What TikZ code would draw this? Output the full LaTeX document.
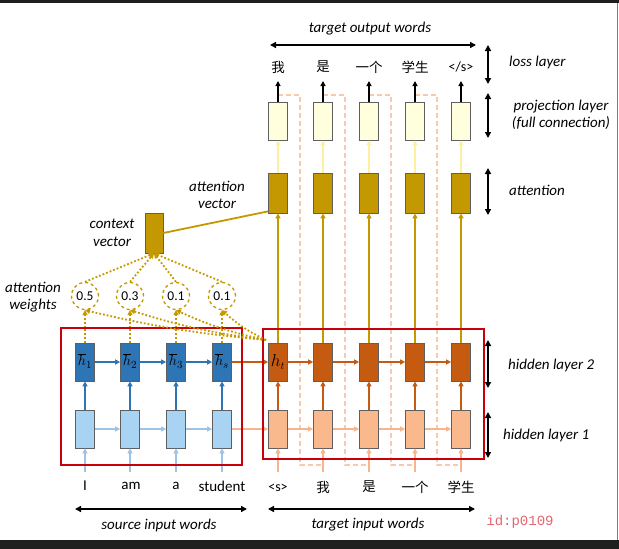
\documentclass[tikz,border=0pt]{standalone}
\usepackage{fontspec}
\setmainfont{Carlito}
\newfontfamily\cjk{Noto Sans CJK SC}
\newfontfamily\idfont{Liberation Mono}
\usetikzlibrary{arrows.meta,calc}
\definecolor{dblue}{RGB}{46,117,182}
\definecolor{lblue}{RGB}{169,211,242}
\definecolor{lbluearr}{RGB}{157,195,230}
\definecolor{dorange}{RGB}{197,90,17}
\definecolor{lorange}{RGB}{250,185,140}
\definecolor{lorangearr}{RGB}{248,180,140}
\definecolor{gold}{RGB}{196,152,0}
\definecolor{lyellow}{RGB}{255,255,222}
\definecolor{lyellowarr}{RGB}{255,240,160}
\definecolor{peach}{RGB}{250,200,170}
\definecolor{redbox}{RGB}{200,0,10}
\definecolor{boxborder}{RGB}{95,95,95}
\definecolor{idred}{RGB}{228,100,110}
\tikzset{
  cell/.style={draw=boxborder, line width=0.7pt, minimum width=19pt, minimum height=38pt, inner sep=0pt},
  lbl/.style={font=\fontsize{15}{17.5}\selectfont\itshape, align=center, inner sep=1pt},
  word/.style={font=\fontsize{15}{17}\selectfont, inner sep=1pt},
  cword/.style={font=\fontsize{13.5}{15}\selectfont\cjk, inner sep=1pt},
  tip/.style={-{Triangle[length=5pt,width=5pt]}},
  dbl/.style={{Triangle[length=6pt,width=6pt]}-{Triangle[length=6pt,width=6pt]}, line width=1.4pt},
  wcirc/.style={circle, draw=gold, dashed, line width=1.3pt, minimum size=27pt, inner sep=0pt, font=\fontsize{13.5}{15}\selectfont},
  dots/.style={gold, dotted, line width=1.8pt},
  hlab/.style={inner sep=0pt, font=\fontsize{15}{15}\selectfont},
}
\begin{document}
\begin{tikzpicture}[x=1pt,y=-1pt]
\useasboundingbox (0,0) rectangle (619,549);
% screenshot frame
\fill[black!88] (0,0) rectangle (619,3);
\fill[black!88] (0,540) rectangle (619,549);
\draw[gray, line width=1pt] (617.5,3) -- (617.5,540);

% peach dashed feedback paths
\foreach \xa/\xb in {278/323,323/369,369/415,415/461}{
  \draw[peach, dashed, line width=1.3pt, dash pattern=on 5pt off 3pt] (\xa,95) -| (\xa+22,465) -| (\xb,460);
}

% source nodes
\foreach \i/\x in {1/85,2/130,3/176}{
  \node[cell, fill=lblue] (sa\i) at (\x,429) {};
  \node[cell, fill=dblue] (sb\i) at (\x,362) {};
  \node[hlab] (hb\i) at (\x,361) {$\overline{h}_{\i}$};
}
\node[cell, fill=lblue] (sa4) at (222,429) {};
\node[cell, fill=dblue] (sb4) at (222,362) {};
\node[hlab] (hb4) at (222,361) {$\overline{h}_{s}$};

% source words
\node[word] (wI) at (85,486) {I};
\node[word] (wam) at (131,486) {am};
\node[word] (wa) at (176,486) {a};
\node[word] (wst) at (222,486) {student};
\foreach \i/\x in {1/85,2/130,3/176,4/222}{
  \coordinate (si\i) at (\x,472);
  \draw[lbluearr, line width=1.2pt, tip] (si\i) -- (sa\i.south);
  \draw[dblue, line width=1.8pt, tip] (sa\i.north) -- (sb\i.south);
}
\foreach \i/\j in {1/2,2/3,3/4}{
  \draw[lbluearr, line width=1.2pt, tip] (sa\i.east) -- (sa\j.west);
  \draw[dblue, line width=2.2pt, tip] (sb\i.east) -- (sb\j.west);
}

% target nodes
\foreach \i/\x in {1/278,2/323,3/369,4/415,5/461}{
  \node[cell, fill=lorange] (ta\i) at (\x,429) {};
  \node[cell, fill=dorange] (tb\i) at (\x,362) {};
  \node[cell, fill=gold, minimum height=40pt] (tc\i) at (\x,193) {};
  \node[cell, fill=lyellow] (td\i) at (\x,121) {};
  \coordinate (ti\i) at (\x,472);
  \coordinate (to\i) at (\x,81);
  \draw[lorangearr, line width=1.2pt, tip] (ti\i) -- (ta\i.south);
  \draw[dorange, line width=1.5pt, tip] (ta\i.north) -- (tb\i.south);
  \draw[gold, line width=1.5pt, tip] (tb\i.north) -- (tc\i.south);
  \draw[lyellowarr, line width=1.5pt, tip] (tc\i.north) -- (td\i.south);
  \draw[black, line width=1.6pt, tip] (td\i.north) -- (to\i);
}
\node[hlab] (ht) at (278,362) {\fontsize{16}{16}\selectfont$h_t$};
\foreach \i/\j in {1/2,2/3,3/4,4/5}{
  \draw[lorangearr, line width=1.2pt, tip] (ta\i.east) -- (ta\j.west);
  \draw[dorange, line width=2pt, tip] (tb\i.east) -- (tb\j.west);
}
\draw[lorangearr, line width=1.2pt, tip] (sa4.east) -- (ta1.west);
\draw[dorange, line width=2pt, tip] (sb4.east) -- (tb1.west);

% target words
\node[word, font=\fontsize{14}{16}\selectfont] (in1) at (278,488) {<s>};
\node[cword] (in2) at (323,487) {我};
\node[cword] (in3) at (369,487) {是};
\node[cword] (in4) at (415,487) {一个};
\node[cword] (in5) at (461,487) {学生};
\node[cword] (out1) at (278,67) {我};
\node[cword] (out2) at (323,67) {是};
\node[cword] (out3) at (369,67) {一个};
\node[cword] (out4) at (415,67) {学生};
\node[word, font=\fontsize{14}{16}\selectfont] (out5) at (461,67) {</s>};

% red boxes
\draw[redbox, line width=2pt] (61,328) rectangle (242,465);
\draw[redbox, line width=2pt] (263,329) rectangle (484,459);

% attention
\node[cell, fill=gold, minimum width=18pt, minimum height=40pt] (ctx) at (154,233) {};
\draw[gold, line width=1.8pt] (ctx.east |- 0,233) -- ($(tc1.south west)+(0,-2)$);
\foreach \i/\x/\v in {1/85/0.5,2/130/0.3,3/176/0.1,4/222/0.1}{
  \node[wcirc] (w\i) at (\x,296) {\v};
  \draw[dots, tip] (w\i.north) -- (ctx.south);
  \draw[dots, tip] (sb\i.north) -- (w\i.south);
}
\coordinate (hq) at (266,340);
\draw[dots, tip] (hq) to[bend left=4] (w1.south);
\draw[dots, tip] (hq) to[bend left=5] (w2.south);
\draw[dots, tip] (hq) to[bend left=6] (w3.south);
\draw[dots, tip] (hq) to[bend left=8] (w4.south);

\node[lbl] (lw) at (33,297) {attention\\weights};
\node[lbl] (lc) at (112,233) {context\\vector};
\node[lbl] (lv) at (217,195) {attention\\vector};

% top
\node[lbl] (tow) at (370,29) {target output words};
\coordinate (ta) at (270,45); \coordinate (tb) at (476,45);
\draw[dbl] (ta) -- (tb);

% bottom
\coordinate (ba) at (75,509); \coordinate (bb) at (247,509);
\coordinate (bc) at (268,509); \coordinate (bd) at (475,509);
\draw[dbl] (ba) -- (bb);
\draw[dbl] (bc) -- (bd);
\node[lbl] (siw) at (159,525) {source input words};
\node[lbl] (tiw) at (368,525) {target input words};
\node[font=\fontsize{14}{16}\selectfont\idfont, text=idred] (id) at (520,522) {id:p0109};

% right layer labels
\coordinate (r1a) at (488,45); \coordinate (r1b) at (488,84);
\coordinate (r2a) at (488,93); \coordinate (r2b) at (488,138);
\coordinate (r3a) at (488,168); \coordinate (r3b) at (488,215);
\coordinate (r4a) at (488,340); \coordinate (r4b) at (488,388);
\coordinate (r5a) at (488,412); \coordinate (r5b) at (488,458);
\foreach \n in {1,...,5}{ \draw[dbl] (r\n a) -- (r\n b); }
\node[lbl, anchor=west] (l1) at (508,62) {loss layer};
\node[lbl] (l2) at (561,115) {projection layer\\(full connection)};
\node[lbl, anchor=west] (l3) at (508,190) {attention};
\node[lbl, anchor=west] (l4) at (507,365) {hidden layer 2};
\node[lbl, anchor=west] (l5) at (502,435) {hidden layer 1};
\end{tikzpicture}
\end{document}
